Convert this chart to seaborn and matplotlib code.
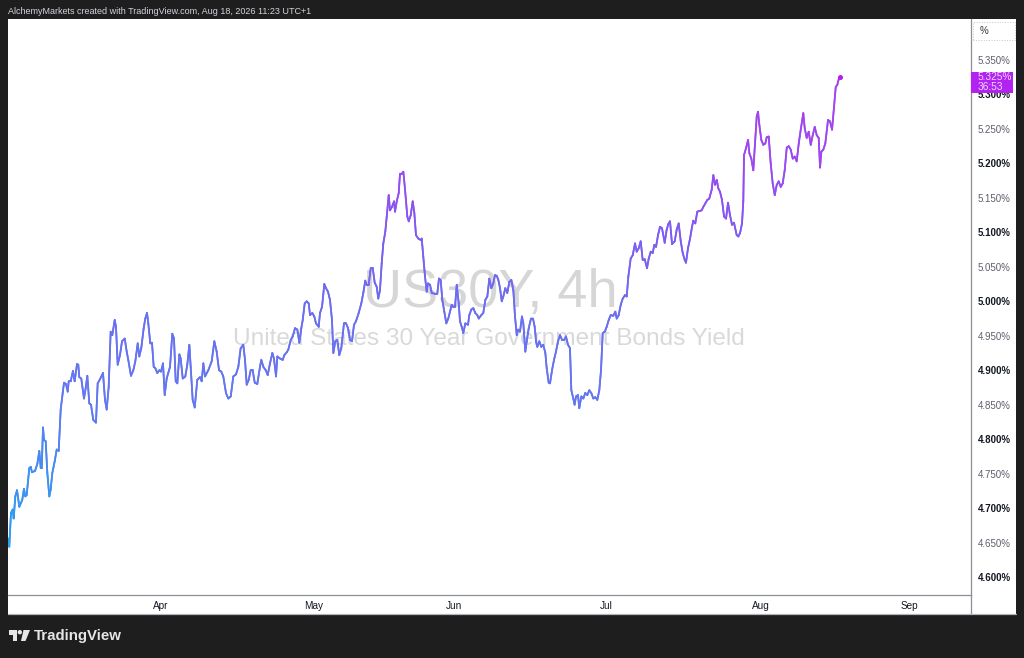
import numpy as np
import pandas as pd
import matplotlib
matplotlib.use('Agg')
import matplotlib.pyplot as plt
import matplotlib.transforms as mtrans
import seaborn as sns
from matplotlib.collections import LineCollection
from matplotlib.colors import LinearSegmentedColormap, Normalize
from matplotlib.patches import Rectangle, Polygon, Ellipse
from matplotlib.lines import Line2D

# US30Y 4h closes, x = trading sessions since early March
sessions = [
    0.0, 0.18, 0.42, 0.66, 0.80, 1.03, 1.27, 1.59, 2.01, 2.25,
    2.44, 2.63, 3.00, 3.20, 3.38, 3.80, 4.13, 4.41, 4.61, 4.75,
    4.93, 5.07, 5.31, 5.54, 5.82, 6.01, 6.24, 6.58, 6.86, 7.14,
    7.42, 7.70, 7.89, 8.17, 8.41, 8.55, 8.83, 9.15, 9.39, 9.72,
    9.90, 10.04, 10.32, 10.70, 10.94, 11.17, 11.45, 11.69, 12.01, 12.39,
    12.63, 12.96, 13.38, 13.66, 13.90, 14.18, 14.46, 14.69, 15.03, 15.21,
    15.45, 15.77, 16.06, 16.44, 16.72, 16.94, 17.32, 17.65, 17.93, 18.27,
    18.49, 18.77, 19.11, 19.34, 19.58, 19.76, 20.04, 20.28, 20.52, 20.75,
    21.03, 21.31, 21.55, 21.83, 22.07, 22.35, 22.82, 23.14, 23.38, 23.62,
    23.85, 24.13, 24.32, 24.61, 24.97, 25.25, 25.54, 25.73, 26.01, 26.30,
    26.66, 27.04, 27.28, 27.51, 27.75, 28.21, 28.69, 29.06, 29.39, 29.72,
    30.04, 30.32, 30.70, 31.03, 31.37, 31.73, 32.11, 32.44, 32.77, 33.14,
    33.38, 33.62, 33.90, 34.18, 34.46, 34.75, 35.11, 35.49, 35.68, 35.96,
    36.30, 36.58, 36.90, 37.23, 37.46, 37.75, 37.93, 38.31, 38.69, 38.92,
    39.25, 39.48, 39.82, 40.10, 40.42, 40.75, 41.03, 41.31, 41.51, 41.79,
    42.07, 42.35, 42.54, 42.86, 43.14, 43.38, 43.76, 43.94, 44.23, 44.55,
    44.79, 45.07, 45.35, 45.63, 45.82, 46.10, 46.38, 46.66, 46.94, 47.32,
    47.61, 47.89, 48.17, 48.45, 48.73, 49.01, 49.39, 49.76, 50.04, 50.32,
    50.52, 50.80, 51.08, 51.37, 51.65, 51.93, 52.15, 52.39, 52.63, 52.86,
    53.14, 53.34, 53.62, 53.80, 54.08, 54.37, 54.51, 54.75, 55.03, 55.21,
    55.45, 55.68, 55.92, 56.24, 56.44, 56.72, 57.00, 57.23, 57.46, 57.79,
    58.13, 58.27, 58.49, 58.73, 58.97, 59.15, 59.44, 59.68, 60.14, 60.46,
    60.70, 60.94, 61.17, 61.45, 61.73, 62.01, 62.25, 62.49, 62.72, 62.96,
    63.20, 63.48, 63.66, 63.90, 64.13, 64.41, 64.79, 64.97, 65.25, 65.54,
    65.82, 66.10, 66.30, 66.66, 66.94, 67.23, 67.51, 67.79, 68.07, 68.35,
    68.59, 68.83, 69.06, 69.30, 69.54, 69.76, 70.04, 70.32, 70.61, 70.89,
    71.17, 71.41, 71.65, 71.83, 72.11, 72.39, 72.58, 72.86, 73.06, 73.34,
    73.66, 73.94, 74.18, 74.37, 74.55, 74.83, 75.11, 75.39, 75.68, 75.87,
    76.15, 76.34, 76.62, 76.90, 77.18, 77.46, 77.75, 78.03, 78.31, 78.59,
    78.87, 79.15, 79.34, 79.62, 79.80, 80.00, 80.28, 80.46, 80.75, 81.03,
    81.31, 81.59, 81.87, 82.15, 82.44, 82.72, 83.00, 83.28, 83.52, 83.76,
    84.04, 84.32, 84.61, 84.89, 85.25, 85.54, 85.73, 86.01, 86.30, 86.58,
    86.90, 87.14, 87.37, 87.70, 87.99, 88.31, 88.55, 88.83, 89.11, 89.39,
    89.68, 90.00, 90.24, 90.52, 90.80, 91.03, 91.27, 91.55, 91.83, 92.11,
    92.49, 92.77, 93.00, 93.24, 93.52, 93.90, 94.18, 94.46, 94.75, 95.03,
    95.31, 95.49, 95.77, 96.06, 96.34, 96.52, 96.80, 97.08, 97.37, 97.70,
    97.93, 98.21, 98.49, 98.77, 99.11, 99.34, 99.58, 99.82, 100.04, 100.28,
    100.56, 100.85, 101.13, 101.41, 101.69, 101.97, 102.25, 102.63, 102.86, 103.10,
    103.38, 103.56, 103.66, 103.94, 104.23, 104.41, 104.69, 104.97, 105.21, 105.45,
    105.63, 105.82, 106.10, 106.38, 106.66, 106.86, 107.14, 107.42, 107.70, 107.99,
    108.27, 108.55, 108.83, 109.11, 109.39, 109.68, 109.96, 110.24, 110.52, 110.80,
    111.08, 111.37, 111.65, 112.01, 112.21, 112.49, 112.77, 113.06, 113.34, 113.62,
    113.90, 114.18, 114.37, 114.55, 114.83, 115.11, 115.49, 115.77, 116.06, 116.34,
    116.58, 116.80, 117.00, 117.18,
]
yields = [
    4.656, 4.644, 4.693, 4.698, 4.685, 4.717, 4.726, 4.702, 4.712, 4.728,
    4.717, 4.719, 4.758, 4.760, 4.752, 4.754, 4.764, 4.783, 4.758, 4.758,
    4.817, 4.799, 4.797, 4.751, 4.717, 4.727, 4.751, 4.768, 4.785, 4.783,
    4.843, 4.867, 4.882, 4.880, 4.869, 4.884, 4.884, 4.899, 4.884, 4.909,
    4.908, 4.890, 4.888, 4.859, 4.874, 4.892, 4.852, 4.850, 4.828, 4.824,
    4.881, 4.887, 4.896, 4.857, 4.843, 4.876, 4.956, 4.951, 4.973, 4.963,
    4.908, 4.922, 4.942, 4.946, 4.927, 4.915, 4.892, 4.900, 4.913, 4.939,
    4.920, 4.932, 4.961, 4.975, 4.983, 4.968, 4.939, 4.940, 4.905, 4.903,
    4.896, 4.900, 4.898, 4.910, 4.864, 4.888, 4.905, 4.953, 4.946, 4.884,
    4.881, 4.923, 4.917, 4.888, 4.891, 4.908, 4.937, 4.905, 4.857, 4.846,
    4.886, 4.890, 4.884, 4.910, 4.891, 4.900, 4.913, 4.942, 4.927, 4.900,
    4.898, 4.891, 4.867, 4.859, 4.862, 4.891, 4.894, 4.905, 4.932, 4.937,
    4.915, 4.879, 4.886, 4.900, 4.900, 4.882, 4.880, 4.905, 4.915, 4.905,
    4.900, 4.893, 4.910, 4.925, 4.917, 4.891, 4.920, 4.917, 4.915, 4.922,
    4.926, 4.930, 4.944, 4.949, 4.961, 4.959, 4.940, 4.961, 4.973, 4.997,
    5.000, 4.997, 4.980, 4.983, 4.978, 4.968, 4.963, 4.983, 4.992, 5.025,
    5.019, 5.014, 5.002, 4.973, 4.925, 4.942, 4.944, 4.922, 4.932, 4.968,
    4.968, 4.961, 4.944, 4.942, 4.966, 4.971, 4.983, 4.997, 5.012, 5.030,
    5.024, 5.024, 5.048, 5.048, 5.027, 5.021, 5.004, 5.016, 5.055, 5.084,
    5.101, 5.123, 5.154, 5.132, 5.137, 5.145, 5.130, 5.145, 5.157, 5.185,
    5.185, 5.188, 5.162, 5.123, 5.116, 5.125, 5.145, 5.128, 5.096, 5.091,
    5.089, 5.091, 5.065, 5.036, 5.014, 5.026, 5.024, 5.012, 5.011, 5.011,
    5.033, 5.031, 5.002, 4.985, 4.968, 4.975, 4.985, 4.995, 4.992, 4.992,
    5.024, 4.997, 4.971, 4.963, 4.954, 4.968, 4.966, 4.980, 4.988, 4.990,
    4.983, 4.980, 4.975, 4.980, 4.983, 5.002, 5.007, 5.033, 5.019, 5.026,
    5.038, 5.037, 5.031, 5.019, 5.000, 5.007, 5.019, 5.012, 5.028, 5.031,
    5.016, 4.978, 4.951, 4.959, 4.956, 4.978, 4.968, 4.927, 4.942, 4.961,
    4.975, 4.975, 4.963, 4.942, 4.934, 4.942, 4.934, 4.937, 4.925, 4.903,
    4.882, 4.881, 4.900, 4.915, 4.927, 4.942, 4.951, 4.944, 4.944, 4.949,
    4.937, 4.932, 4.871, 4.859, 4.850, 4.862, 4.864, 4.845, 4.862, 4.859,
    4.867, 4.864, 4.871, 4.867, 4.859, 4.861, 4.857, 4.871, 4.900, 4.954,
    4.956, 4.963, 4.973, 4.980, 4.979, 4.985, 4.975, 4.980, 4.995, 5.004,
    5.009, 5.007, 5.036, 5.062, 5.067, 5.084, 5.072, 5.077, 5.087, 5.060,
    5.061, 5.048, 5.062, 5.072, 5.070, 5.082, 5.079, 5.096, 5.108, 5.106,
    5.085, 5.104, 5.112, 5.116, 5.083, 5.087, 5.104, 5.113, 5.087, 5.070,
    5.060, 5.056, 5.077, 5.091, 5.108, 5.117, 5.113, 5.130, 5.131, 5.132,
    5.137, 5.142, 5.147, 5.149, 5.162, 5.183, 5.169, 5.176, 5.164, 5.159,
    5.147, 5.123, 5.120, 5.143, 5.125, 5.111, 5.114, 5.096, 5.094, 5.099,
    5.113, 5.145, 5.212, 5.222, 5.234, 5.215, 5.207, 5.190, 5.229, 5.268,
    5.275, 5.256, 5.234, 5.227, 5.229, 5.238, 5.239, 5.200, 5.171, 5.154,
    5.169, 5.174, 5.166, 5.171, 5.190, 5.223, 5.225, 5.220, 5.207, 5.210,
    5.203, 5.229, 5.249, 5.273, 5.251, 5.237, 5.246, 5.227, 5.241, 5.253,
    5.241, 5.237, 5.194, 5.217, 5.220, 5.229, 5.263, 5.261, 5.249, 5.282,
    5.311, 5.314, 5.322, 5.325,
]

month_labels = ['Apr', 'May', 'Jun', 'Jul', 'Aug', 'Sep']
month_pos = [21.55, 43.0, 62.8, 84.2, 106.1, 126.9]
ytick_vals = [4.60, 4.65, 4.70, 4.75, 4.80, 4.85, 4.90, 4.95,
              5.00, 5.05, 5.10, 5.15, 5.20, 5.25, 5.30, 5.35]
countdown = '36:53'

sns.set_theme(style='white')
plt.rcParams['font.family'] = ['Liberation Sans', 'DejaVu Sans']

W, H = 1024, 658
def fx(x):
    return x / W
def fy(y):
    return 1 - y / H

fig = plt.figure(figsize=(10.24, 6.58), dpi=100, facecolor='#1e1e1e')

# white chart panel
fig.patches.append(Rectangle((fx(8), fy(614)), fx(1016) - fx(8), fy(19) - fy(614),
                             transform=fig.transFigure, facecolor='white',
                             edgecolor='none', zorder=-2))

ax = fig.add_axes([fx(8), fy(595), fx(971) - fx(8), fy(19) - fy(595)])
ax.set_facecolor('white')

df = pd.DataFrame({'session': sessions, 'yield': yields})
sns.lineplot(data=df, x='session', y='yield', ax=ax, color='#6a70f0',
             linewidth=1.25, sort=False, estimator=None)

# gradient colouring by level, like the TradingView line
cmap = LinearSegmentedColormap.from_list('tv', [
    (0.0, '#1ea8f0'), (0.174, '#3f90f0'), (0.319, '#6278f0'),
    (0.522, '#6c6df0'), (0.667, '#8458f2'), (0.797, '#a046f2'), (1.0, '#b43cf0')])
pts = df[['session', 'yield']].to_numpy()
segs = np.stack([pts[:-1], pts[1:]], axis=1)
lc = LineCollection(segs, cmap=cmap, norm=Normalize(4.64, 5.33), linewidths=1.25,
                    capstyle='round', joinstyle='round', zorder=3)
lc.set_array((pts[:-1, 1] + pts[1:, 1]) / 2)
ax.add_collection(lc)
ax.scatter([sessions[-1]], [yields[-1]], s=13, color='#b41cf0', zorder=5, linewidths=0)

# watermark
ax.text(0.5005, 0.524, 'US30Y, 4h', transform=ax.transAxes, ha='center', va='center',
        fontsize=39, color='#d6d6d6', zorder=0)
ax.text(0.4995, 0.444, 'United States 30 Year Government Bonds Yield', transform=ax.transAxes,
        ha='center', va='center', fontsize=17.6, color='#d9d9d9', zorder=0)

ax.set_xlim(0, 135.63)
ax.set_ylim(4.574, 5.4095)
ax.set_xlabel('')
ax.set_ylabel('')
ax.yaxis.tick_right()
ax.set_yticks(ytick_vals)
ax.set_yticklabels([f'{v:.3f}%' for v in ytick_vals])
ax.set_xticks(month_pos)
ax.set_xticklabels(month_labels)
ax.tick_params(axis='y', length=0, pad=5, labelsize=7)
ax.tick_params(axis='x', length=0, pad=4.5, labelsize=7.2, labelcolor='#131722')
for lbl, v in zip(ax.get_yticklabels(), ytick_vals):
    if round(v * 1000) % 100 == 0:
        lbl.set_fontweight('bold')
        lbl.set_color('#131722')
    else:
        lbl.set_color('#5d606b')
ax.grid(False)
for side in ['top', 'left']:
    ax.spines[side].set_visible(False)
for side in ['right', 'bottom']:
    ax.spines[side].set_color('#8a8e97')
    ax.spines[side].set_linewidth(0.9)

# last value label on the price scale
blend = mtrans.blended_transform_factory(ax.transAxes, ax.transData)
ax.add_patch(Rectangle((1.0, 5.3018), 0.0436, 0.0315, transform=blend,
                       facecolor='#b223f2', edgecolor='none', clip_on=False, zorder=6))
ax.text(1.0068, yields[-1], f'{yields[-1]:.3f}%', transform=blend, ha='left', va='center',
        fontsize=7.3, color='#efd9ff', clip_on=False, zorder=7)
ax.text(1.0068, 5.3105, countdown, transform=blend, ha='left', va='center',
        fontsize=7.3, color='#efd9ff', clip_on=False, zorder=7)

# scale frame bits
fig.lines.append(Line2D([fx(971), fx(971)], [fy(595), fy(614)], transform=fig.transFigure,
                        color='#8a8e97', lw=0.9))
fig.lines.append(Line2D([fx(8), fx(1016)], [fy(614), fy(614)], transform=fig.transFigure,
                        color='#b2b5be', lw=0.9))
fig.patches.append(Rectangle((fx(973), fy(40)), fx(1015) - fx(973), fy(22) - fy(40),
                             transform=fig.transFigure, facecolor='none',
                             edgecolor='#c4c4c4', linestyle=':', lw=0.7))
fig.text(fx(983.5), fy(31), '%', ha='center', va='center', fontsize=7, color='#333333')

# header and logo
fig.text(fx(8), fy(11), 'AlchemyMarkets created with TradingView.com, Aug 18, 2026 11:23 UTC+1',
         ha='left', va='center', fontsize=6.5, color='#d1d4dc')
fig.text(fx(34), fy(636), 'TradingView', ha='left', va='center', fontsize=10.8,
         fontweight='bold', color='#e6e6e6')
logo = '#e6e6e6'
fig.patches.append(Polygon([(fx(8.5), fy(630)), (fx(17), fy(630)), (fx(17), fy(641)),
                            (fx(13), fy(641)), (fx(13), fy(634.5)), (fx(8.5), fy(634.5))],
                           closed=True, transform=fig.transFigure, facecolor=logo, edgecolor='none'))
fig.patches.append(Ellipse((fx(19.8), fy(632.2)), 4.4 / W, 4.4 / H, transform=fig.transFigure,
                           facecolor=logo, edgecolor='none'))
fig.patches.append(Polygon([(fx(23.5), fy(630)), (fx(30), fy(630)), (fx(25.5), fy(641)),
                            (fx(21), fy(641))],
                           closed=True, transform=fig.transFigure, facecolor=logo, edgecolor='none'))

fig.savefig('out.png', dpi=100, facecolor=fig.get_facecolor())
